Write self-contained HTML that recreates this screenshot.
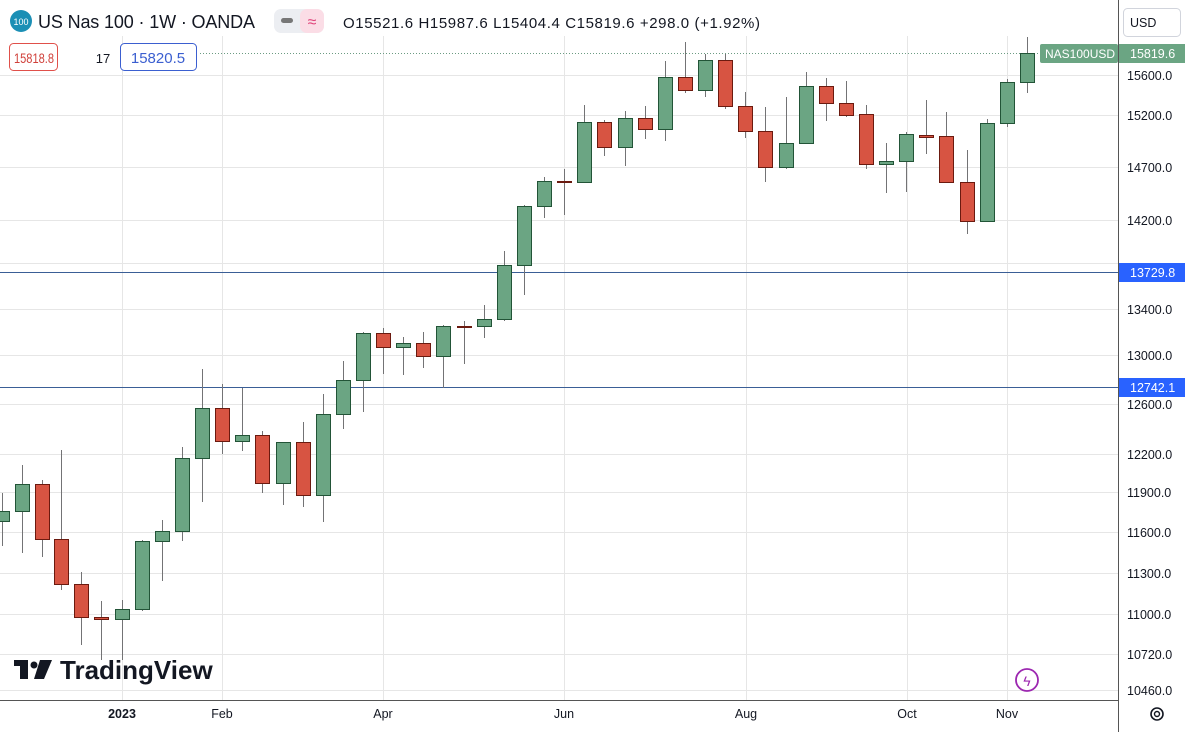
<!DOCTYPE html>
<html><head><meta charset="utf-8"><style>
body{margin:0;width:1185px;height:732px;overflow:hidden;background:#fff;font-family:"Liberation Sans",sans-serif}
</style></head><body>
<svg width="1185" height="732" xmlns="http://www.w3.org/2000/svg" font-family="Liberation Sans, sans-serif">
<rect width="1185" height="732" fill="#fff"/>
<g stroke="#e6e6e6" stroke-width="1">
<line x1="0" x2="1118" y1="75.5" y2="75.5"/><line x1="0" x2="1118" y1="115.5" y2="115.5"/><line x1="0" x2="1118" y1="167.5" y2="167.5"/><line x1="0" x2="1118" y1="220.5" y2="220.5"/><line x1="0" x2="1118" y1="263.5" y2="263.5"/><line x1="0" x2="1118" y1="309.5" y2="309.5"/><line x1="0" x2="1118" y1="355.5" y2="355.5"/><line x1="0" x2="1118" y1="404.5" y2="404.5"/><line x1="0" x2="1118" y1="454.5" y2="454.5"/><line x1="0" x2="1118" y1="492.5" y2="492.5"/><line x1="0" x2="1118" y1="532.5" y2="532.5"/><line x1="0" x2="1118" y1="573.5" y2="573.5"/><line x1="0" x2="1118" y1="614.5" y2="614.5"/><line x1="0" x2="1118" y1="654.5" y2="654.5"/><line x1="0" x2="1118" y1="690.5" y2="690.5"/>
<line x1="122.5" x2="122.5" y1="36" y2="700"/><line x1="222.5" x2="222.5" y1="36" y2="700"/><line x1="383.5" x2="383.5" y1="36" y2="700"/><line x1="564.5" x2="564.5" y1="36" y2="700"/><line x1="746.5" x2="746.5" y1="36" y2="700"/><line x1="907.5" x2="907.5" y1="36" y2="700"/><line x1="1007.5" x2="1007.5" y1="36" y2="700"/>
</g>
<line x1="0" x2="1118" y1="272.5" y2="272.5" stroke="#3a5e96" stroke-width="1"/>
<line x1="0" x2="1118" y1="387.5" y2="387.5" stroke="#3a5e96" stroke-width="1"/>
<line x1="200" x2="1040" y1="53.5" y2="53.5" stroke="#6b9b82" stroke-width="1" stroke-dasharray="1,2"/>
<g id="c"></g>
<line x1="1118.5" x2="1118.5" y1="0" y2="732" stroke="#555" stroke-width="1"/>
<line x1="0" x2="1118" y1="700.5" y2="700.5" stroke="#555" stroke-width="1"/>
<g font-size="12.5" fill="#131722">
<text x="1127" y="80">15600.0</text><text x="1127" y="120">15200.0</text><text x="1127" y="172">14700.0</text><text x="1127" y="225">14200.0</text><text x="1127" y="314">13400.0</text><text x="1127" y="360">13000.0</text><text x="1127" y="409">12600.0</text><text x="1127" y="459">12200.0</text><text x="1127" y="497">11900.0</text><text x="1127" y="537">11600.0</text><text x="1127" y="578">11300.0</text><text x="1127" y="619">11000.0</text><text x="1127" y="659">10720.0</text><text x="1127" y="695">10460.0</text>
</g>
<rect x="1119" y="263" width="66" height="19" fill="#2962ff"/><text x="1130" y="277" font-size="12.5" fill="#fff">13729.8</text>
<rect x="1119" y="378" width="66" height="19" fill="#2962ff"/><text x="1130" y="392" font-size="12.5" fill="#fff">12742.1</text>
<rect x="1119" y="44" width="66" height="19" fill="#6ba583"/><text x="1130" y="58" font-size="12.5" fill="#fff">15819.6</text>
<rect x="1040" y="44" width="78" height="19" rx="2" fill="#6ba583"/><text x="1045" y="58" font-size="12" fill="#fff">NAS100USD</text>
<rect x="1123.5" y="8.5" width="57" height="28" rx="4" fill="#fff" stroke="#d1d4dc"/><text x="1130" y="27" font-size="12.5" fill="#131722">USD</text>
<circle cx="1157" cy="714" r="6" fill="none" stroke="#131722" stroke-width="1.6"/><circle cx="1157" cy="714" r="2.5" fill="none" stroke="#131722" stroke-width="1.4"/>
<g font-size="12.5" fill="#131722" text-anchor="middle">
<text x="122" y="718" font-weight="bold">2023</text><text x="222" y="718">Feb</text><text x="383" y="718">Apr</text><text x="564" y="718">Jun</text><text x="746" y="718">Aug</text><text x="907" y="718">Oct</text><text x="1007" y="718">Nov</text>
</g>
<circle cx="21" cy="21" r="11" fill="#1b8fb5"/><text x="21" y="25" font-size="9" fill="#fff" text-anchor="middle">100</text>
<text x="38" y="28" font-size="18" fill="#131722" textLength="217">US Nas 100 · 1W · OANDA</text>
<rect x="274" y="9" width="50" height="24" rx="7" fill="#eceef2"/><rect x="300" y="9" width="24" height="24" rx="7" fill="#fbdde6"/><rect x="281" y="18" width="12" height="5" rx="2.5" fill="#777"/><text x="312" y="27" font-size="16" fill="#e0457b" text-anchor="middle">≈</text>
<text x="343" y="28" font-size="15" fill="#131722" textLength="417">O15521.6 H15987.6 L15404.4 C15819.6 +298.0 (+1.92%)</text>
<rect x="9.5" y="43.5" width="48" height="27" rx="4" fill="#fff" stroke="#e0504a"/><text x="14" y="63" font-size="14" fill="#d0403a" textLength="40" lengthAdjust="spacingAndGlyphs">15818.8</text>
<text x="103" y="63" font-size="13" fill="#131722" text-anchor="middle">17</text>
<rect x="120.5" y="43.5" width="76" height="27" rx="4" fill="#fff" stroke="#3b5fd0"/><text x="158" y="63" font-size="15" fill="#3b5fd0" text-anchor="middle">15820.5</text>
<g fill="#131722"><rect x="14" y="660" width="14" height="6"/><rect x="20" y="660" width="8" height="19"/><circle cx="34" cy="665" r="3.5"/><polygon points="40,660 52,660 44,679 34,679"/></g>
<text x="60" y="679" font-size="26" font-weight="bold" fill="#131722">TradingView</text>
<circle cx="1027" cy="680" r="11" fill="none" stroke="#9c27b0" stroke-width="1.8"/><text x="1027" y="686" font-size="14" fill="#9c27b0" text-anchor="middle">ϟ</text>
</svg>
<script>
var d=[[2,511,521,493,546,1],[22,484,511,465,553,1],[42,484,539,480,557,0],[61,539,584,450,590,0],[81,584,617,572,645,0],[101,617,619,601,660,0],[122,609,619,600,660,1],[142,541,609,540,611,1],[162,531,541,520,581,1],[182,458,531,447,541,1],[202,408,458,369,502,1],[222,408,441,384,454,0],[242,435,441,388,451,1],[262,435,483,431,493,0],[283,442,483,442,505,1],[303,442,495,422,507,0],[323,414,495,394,522,1],[343,380,414,361,429,1],[363,333,380,332,412,1],[383,333,347,328,374,0],[403,343,347,337,375,1],[423,343,356,332,368,0],[443,326,356,325,388,1],[464,326,327,321,364,0],[484,319,326,305,338,1],[504,265,319,251,321,1],[524,206,265,205,295,1],[544,181,206,177,218,1],[564,181,182,169,215,0],[584,122,182,105,182,1],[604,122,147,120,156,0],[625,118,147,111,166,1],[645,118,129,106,139,0],[665,77,129,61,141,1],[685,77,90,42,93,0],[705,60,90,54,97,1],[725,60,106,54,109,0],[745,106,131,92,138,0],[765,131,167,107,182,0],[786,143,167,97,169,1],[806,86,143,72,143,1],[826,86,103,78,121,0],[846,103,115,81,117,0],[866,114,164,105,169,0],[886,161,164,143,193,1],[906,134,161,132,192,1],[926,135,137,100,154,0],[946,136,182,112,182,0],[967,182,221,150,234,0],[987,123,221,119,221,1],[1007,82,123,79,127,1],[1027,53,82,37,93,1]];
var s='';d.forEach(function(c){var x=c[0],g=c[5];s+='<line x1="'+(x+.5)+'" x2="'+(x+.5)+'" y1="'+c[3]+'" y2="'+c[4]+'" stroke="#737375"/>';s+='<rect x="'+(x-6.5)+'" y="'+(c[1]+.5)+'" width="14" height="'+Math.max(1,c[2]-c[1])+'" fill="'+(g?'#6ba583':'#d75442')+'" stroke="'+(g?'#225437':'#6b1a0f')+'"/>';});
document.getElementById('c').innerHTML=s;
</script>
</body></html>
